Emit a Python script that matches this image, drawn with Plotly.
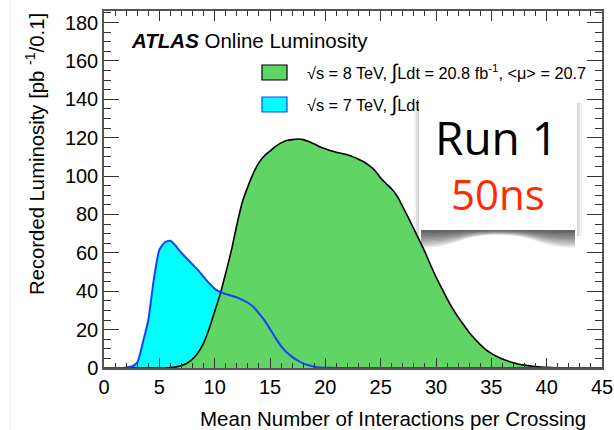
import plotly.graph_objects as go

# <mu> bin centres and recorded luminosity [pb^-1 / 0.1]
mu_7tev = [0, 1.5, 2.0, 2.5, 3.0, 3.5, 4.0, 4.5, 5.0, 5.5, 6.0, 6.5, 7.0, 7.5, 8.0,
           8.5, 9.0, 9.5, 10.0, 10.5, 11.0, 11.5, 12.0, 12.5, 13.0, 13.5, 14.0,
           14.5, 15.0, 15.5, 16.0, 16.5, 17.0, 17.5, 18.0, 18.5, 19.0, 19.5,
           20.0, 21.0, 22.0, 45.0]
lumi_7tev = [0, 0, 0.3, 0.8, 2.8, 13, 25, 46, 61.5, 65.5, 66.3, 63.5, 60, 57, 54,
             51, 47.5, 44.2, 41.3, 39.6, 38.5, 37.7, 36.8, 35.5, 34, 31.8, 28.5,
             24.8, 20.3, 15.7, 11.4, 8.2, 5.8, 3.9, 2.4, 1.4, 0.7, 0.3,
             0.15, 0.05, 0, 0]

mu_8tev = [0, 5.5, 6.0, 6.5, 7.0, 7.5, 8.0, 8.5, 9.0, 9.5, 10.0, 10.5, 11.0, 11.5,
           12.0, 12.5, 13.0, 13.5, 14.0, 14.5, 15.0, 15.5, 16.0, 16.5, 17.0, 17.5,
           18.0, 18.5, 19.0, 19.5, 20.0, 20.5, 21.0, 21.5, 22.0, 22.5, 23.0, 23.5,
           24.0, 24.5, 25.0, 25.5, 26.0, 26.5, 27.0, 27.5, 28.0, 28.5, 29.0, 29.5,
           30.0, 30.5, 31.0, 31.5, 32.0, 32.5, 33.0, 33.5, 34.0, 34.5, 35.0, 35.5,
           36.0, 36.5, 37.0, 37.5, 38.0, 38.5, 39.0, 39.5, 40.0, 41.0, 42.0, 45.0]
lumi_8tev = [0, 0, 0.2, 0.6, 1.3, 2.5, 4.6, 8, 13, 20.5, 29.5, 38.5, 49.5, 61,
             74.5, 86.5, 94.5, 101.5, 107, 110.6, 113, 115.5, 117.3, 118.5, 119, 119.3,
             119, 118, 116.7, 115.3, 114.2, 113.2, 112.4, 111.8, 111.1, 110, 108.8, 107.3,
             105.3, 102.8, 99, 96, 93.3, 89.5, 84, 78.3, 72.5, 66.5, 60.5, 53.8,
             47.5, 41.7, 36.2, 31, 26.5, 22.5, 18.5, 15.2, 12.2, 9.6, 7.6, 6,
             4.7, 3.6, 2.7, 2.0, 1.5, 1.1, 0.8, 0.5, 0.3, 0.1, 0, 0]

x_ticks = [0, 5, 10, 15, 20, 25, 30, 35, 40, 45]
y_ticks = [0, 20, 40, 60, 80, 100, 120, 140, 160, 180]

INTEGRAL = "<span style='font-size:21px'>∫</span>"
legend_8tev = f"√s = 8 TeV, {INTEGRAL}Ldt = 20.8 fb<sup>-1</sup>, &lt;μ&gt; = 20.7"
legend_7tev = f"√s = 7 TeV, {INTEGRAL}Ldt = 5.2 fb<sup>-1</sup>, &lt;μ&gt; = 9.1"

GREEN = "#60d465"
CYAN = "#00ffff"
BLUE = "#1a40ff"
FONT = "Liberation Sans, Arial, sans-serif"
SLIDE_FONT = "Open Sans, Noto Sans, sans-serif"

# canvas geometry (pixels) of the frame
W, H = 614, 430
L, R, T, B = 104, 602, 11, 368


def px(x):
    return (x - L) / (R - L)


def py(y):
    return (B - y) / (B - T)


fig = go.Figure()
spline = dict(shape="spline", smoothing=0.6)
fig.add_trace(go.Scatter(x=mu_7tev, y=lumi_7tev, mode="lines", line=dict(width=0, **spline),
                         fill="tozeroy", fillcolor=CYAN, hoverinfo="skip", showlegend=False))
fig.add_trace(go.Scatter(x=mu_8tev, y=lumi_8tev, mode="lines", line=dict(color="black", width=1.6, **spline),
                         fill="tozeroy", fillcolor=GREEN, showlegend=False))
fig.add_trace(go.Scatter(x=mu_7tev, y=lumi_7tev, mode="lines", line=dict(color=BLUE, width=2, **spline),
                         showlegend=False))

shapes = []
# faint page edge on the left
shapes.append(dict(type="line", xref="paper", yref="paper", x0=px(10), x1=px(10), y0=py(0), y1=py(430),
                   line=dict(color="#ececec", width=1), layer="below"))
# the 7 TeV histogram line running along zero over the frame
shapes.append(dict(type="line", xref="x", yref="y", x0=mu_7tev[-3], x1=mu_7tev[-1], y0=lumi_7tev[-1], y1=lumi_7tev[-1],
                   line=dict(color=BLUE, width=2), layer="above"))
shapes.append(dict(type="line", xref="x", yref="y", x0=mu_7tev[0], x1=mu_7tev[1], y0=lumi_7tev[0], y1=lumi_7tev[1],
                   line=dict(color=BLUE, width=2), layer="above"))
# legend swatches
shapes.append(dict(type="rect", xref="paper", yref="paper", x0=px(262), x1=px(287), y0=py(80), y1=py(65),
                   fillcolor=GREEN, line=dict(color="black", width=1.2)))
shapes.append(dict(type="rect", xref="paper", yref="paper", x0=px(262), x1=px(287), y0=py(112), y1=py(97),
                   fillcolor=CYAN, line=dict(color=BLUE, width=1.2)))

# curled drop shadow under the label card: stacked translucent lobes,
# deep under the corners and shallow in the middle (the card hides the top part)
bx0, bx1, by0, by1 = 419, 577, 95, 230
n_layers = 12
for i in range(n_layers):
    f = (i + 1) / n_layers
    depth = 18 * f
    mid = 5 * f
    x0, x1 = bx0 + 2, bx1 - 2
    cx = (x0 + x1) / 2
    path = (f"M {px(x0)},{py(by1 - 3)} L {px(x0)},{py(by1 + depth)} "
            f"C {px(x0 + 40)},{py(by1 + depth * 0.95)} {px(cx - 40)},{py(by1 + mid)} {px(cx)},{py(by1 + mid)} "
            f"C {px(cx + 40)},{py(by1 + mid)} {px(x1 - 40)},{py(by1 + depth * 0.95)} {px(x1)},{py(by1 + depth)} "
            f"L {px(x1)},{py(by1 - 3)} Z")
    shapes.append(dict(type="path", xref="paper", yref="paper", path=path,
                       fillcolor="rgba(0,0,0,0.075)", line=dict(width=0), layer="above"))
for w, op in [(5, 0.05), (3, 0.06), (1.5, 0.07)]:
    shapes.append(dict(type="rect", xref="paper", yref="paper", x0=px(bx1), x1=px(bx1 + w), y0=py(by1 + 6), y1=py(by0 + 8),
                       fillcolor=f"rgba(0,0,0,{op})", line=dict(width=0), layer="above"))
    shapes.append(dict(type="rect", xref="paper", yref="paper", x0=px(bx0 - w), x1=px(bx0), y0=py(by1 + 6), y1=py(by0 + 8),
                       fillcolor=f"rgba(0,0,0,{op})", line=dict(width=0), layer="above"))

annotations = [
    dict(xref="paper", yref="paper", x=px(129), y=py(40), xanchor="left", yanchor="middle", showarrow=False,
         text="<b><i>ATLAS</i></b> Online Luminosity", font=dict(family=FONT, size=20.5, color="black")),
    dict(xref="paper", yref="paper", x=px(305), y=py(72), xanchor="left", yanchor="middle", showarrow=False,
         text=legend_8tev, font=dict(family=FONT, size=16.3, color="black")),
    dict(xref="paper", yref="paper", x=px(305), y=py(104), xanchor="left", yanchor="middle", showarrow=False,
         text=legend_7tev, font=dict(family=FONT, size=16.3, color="black")),
    # white label card
    dict(xref="paper", yref="paper", x=px((bx0 + bx1) / 2), y=py((by0 + by1) / 2), xanchor="center", yanchor="middle",
         showarrow=False, text=" ", width=bx1 - bx0, height=by1 - by0, bgcolor="white", borderpad=0, borderwidth=0,
         font=dict(size=10)),
    dict(xref="paper", yref="paper", x=px(496), y=py(137), xanchor="center", yanchor="middle", showarrow=False,
         text="Run 1", font=dict(family=SLIDE_FONT, size=46, color="black")),
    dict(xref="paper", yref="paper", x=px(498), y=py(193), xanchor="center", yanchor="middle", showarrow=False,
         text="50ns", font=dict(family=SLIDE_FONT, size=42, color="#ff2a00")),
    # axis titles
    dict(xref="paper", yref="paper", x=px(588), y=py(418), xanchor="right", yanchor="middle", showarrow=False,
         text="Mean Number of Interactions per Crossing", font=dict(family=FONT, size=20.5, color="black")),
    dict(xref="paper", yref="paper", x=px(35), y=py(11), xanchor="center", yanchor="top", showarrow=False,
         textangle=-90, text="Recorded Luminosity [pb <sup>-1</sup>/0.1]", font=dict(family=FONT, size=20.3, color="black")),
]

axis_common = dict(showline=True, linecolor="#555555", linewidth=1.5, mirror="allticks", ticks="inside",
                   tickcolor="#333333", tickwidth=1.2, showgrid=False, zeroline=False, automargin=False,
                   tickfont=dict(family=FONT, size=20, color="black"))

fig.update_layout(
    width=W, height=H,
    margin=dict(l=L, r=W - R, t=T, b=H - B, autoexpand=False),
    paper_bgcolor="white", plot_bgcolor="white",
    xaxis=dict(range=[0, 45], tickvals=x_ticks, ticktext=[str(v) for v in x_ticks], ticklen=10,
               minor=dict(dtick=1, ticklen=5, ticks="inside", tickcolor="#333333", tickwidth=1.2, showgrid=False),
               **axis_common),
    yaxis=dict(range=[0, 186], tickvals=y_ticks, ticktext=[str(v) for v in y_ticks], ticklen=15,
               minor=dict(dtick=5, ticklen=7, ticks="inside", tickcolor="#333333", tickwidth=1.2, showgrid=False),
               **axis_common),
    shapes=shapes,
    annotations=annotations,
)

fig.write_html("out.html")
